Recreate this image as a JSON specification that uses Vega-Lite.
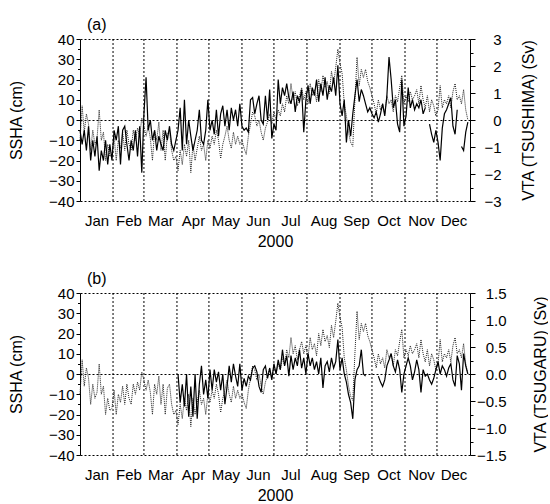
{
  "$schema": "https://vega.github.io/schema/vega-lite/v6.json",
  "padding": {"left": 8, "top": 17, "right": 0, "bottom": 0},
  "spacing": 22,
  "config": {
    "font": "Liberation Sans",
    "view": {"stroke": null},
    "axis": {
      "labelFont": "Liberation Sans",
      "titleFont": "Liberation Sans",
      "labelColor": "#000",
      "titleColor": "#000",
      "labelFontSize": 15,
      "titleFontSize": 16,
      "titleFontWeight": "normal",
      "domainColor": "#000",
      "tickColor": "#000"
    },
    "title": {"font": "Liberation Sans", "fontSize": 16, "fontWeight": "normal", "color": "#000"}
  },
  "datasets": {
    "months": [{"d": 31}, {"d": 60}, {"d": 91}, {"d": 121}, {"d": 152}, {"d": 182}, {"d": 213}, {"d": 244}, {"d": 274}, {"d": 305}, {"d": 335}],
    "ts": [
      {"d": 0, "s": -10, "a": -0.38, "b": null}, {"d": 2, "s": 7, "a": -0.9, "b": null}, {"d": 4, "s": -6, "a": -0.38, "b": null}, {"d": 6, "s": 3, "a": -1.13, "b": null}, {"d": 8, "s": -2, "a": -0.23, "b": null},
      {"d": 10, "s": -15, "a": -1.5, "b": null}, {"d": 12, "s": -5, "a": -0.75, "b": null}, {"d": 14, "s": -12, "a": -1.35, "b": null}, {"d": 16, "s": -9, "a": -0.6, "b": null}, {"d": 18, "s": 5, "a": -1.88, "b": null},
      {"d": 20, "s": -10, "a": -1.13, "b": null}, {"d": 22, "s": -6, "a": -1.5, "b": null}, {"d": 24, "s": -20, "a": -0.75, "b": null}, {"d": 26, "s": -12, "a": -1.65, "b": null}, {"d": 28, "s": -18, "a": -0.9, "b": null},
      {"d": 30, "s": -17, "a": -1.5, "b": null}, {"d": 32, "s": -8, "a": -0.38, "b": null}, {"d": 34, "s": -20, "a": -0.75, "b": null}, {"d": 36, "s": -10, "a": -0.23, "b": null}, {"d": 38, "s": -14, "a": -1.65, "b": null},
      {"d": 40, "s": -6, "a": -0.38, "b": null}, {"d": 42, "s": -15, "a": -0.23, "b": null}, {"d": 44, "s": -5, "a": -0.9, "b": null}, {"d": 46, "s": -12, "a": -1.5, "b": null}, {"d": 48, "s": -15, "a": -0.75, "b": null},
      {"d": 50, "s": -5, "a": -1.13, "b": null}, {"d": 52, "s": -10, "a": -0.38, "b": null}, {"d": 54, "s": -4, "a": -1.35, "b": null}, {"d": 56, "s": -8, "a": -0.23, "b": null}, {"d": 58, "s": 1, "a": -1.95, "b": null},
      {"d": 60, "s": -3, "a": 0.23, "b": null}, {"d": 62, "s": -8, "a": 1.58, "b": null}, {"d": 64, "s": -3, "a": -0.38, "b": null}, {"d": 66, "s": -9, "a": 0, "b": null}, {"d": 68, "s": -20, "a": -0.75, "b": null},
      {"d": 70, "s": -5, "a": -0.38, "b": null}, {"d": 72, "s": -10, "a": -1.13, "b": null}, {"d": 74, "s": -1, "a": -0.6, "b": null}, {"d": 76, "s": -15, "a": -0.9, "b": null}, {"d": 78, "s": -5, "a": -1.13, "b": null},
      {"d": 80, "s": -20, "a": -0.38, "b": null}, {"d": 82, "s": -7, "a": -0.75, "b": null}, {"d": 84, "s": -5, "a": -0.23, "b": null}, {"d": 86, "s": -15, "a": -0.9, "b": null}, {"d": 88, "s": -20, "a": -1.13, "b": null},
      {"d": 90, "s": -18, "a": -0.75, "b": null}, {"d": 92, "s": -25, "a": -0.38, "b": 0}, {"d": 94, "s": -15, "a": 0.45, "b": -0.53}, {"d": 96, "s": -22, "a": -1.13, "b": -0.19}, {"d": 98, "s": -12, "a": 0.75, "b": -0.6},
      {"d": 100, "s": -18, "a": -0.9, "b": 0}, {"d": 102, "s": -10, "a": 0, "b": -0.79}, {"d": 104, "s": -26, "a": -0.6, "b": -0.23}, {"d": 106, "s": -12, "a": -1.13, "b": -0.79}, {"d": 108, "s": -20, "a": -0.75, "b": 0},
      {"d": 110, "s": -14, "a": -0.38, "b": -0.83}, {"d": 112, "s": -8, "a": 0.38, "b": -0.19}, {"d": 114, "s": -15, "a": -0.75, "b": 0.15}, {"d": 116, "s": -12, "a": -0.9, "b": -0.38}, {"d": 118, "s": -20, "a": -0.38, "b": -0.11},
      {"d": 120, "s": -10, "a": 0.75, "b": -0.45}, {"d": 122, "s": -14, "a": -0.38, "b": 0.08}, {"d": 124, "s": -8, "a": 0, "b": -0.3}, {"d": 126, "s": -12, "a": -0.53, "b": 0.08}, {"d": 128, "s": -5, "a": 0.38, "b": -0.15},
      {"d": 130, "s": -10, "a": -0.6, "b": 0.04}, {"d": 132, "s": -19, "a": 0.23, "b": -0.3}, {"d": 134, "s": -12, "a": 0.53, "b": 0}, {"d": 136, "s": -8, "a": -0.23, "b": -0.56}, {"d": 138, "s": -3, "a": 0.38, "b": -0.23},
      {"d": 140, "s": -10, "a": -0.38, "b": 0.15}, {"d": 142, "s": -14, "a": 0.45, "b": -0.15}, {"d": 144, "s": -6, "a": 0, "b": 0.19}, {"d": 146, "s": -12, "a": 0.38, "b": -0.04}, {"d": 148, "s": -8, "a": -0.23, "b": -0.23},
      {"d": 150, "s": -12, "a": 0.6, "b": 0.19}, {"d": 152, "s": -10, "a": -0.23, "b": -0.3}, {"d": 154, "s": -14, "a": -0.38, "b": -0.08}, {"d": 156, "s": -17, "a": -0.3, "b": -0.23}, {"d": 158, "s": -8, "a": -0.45, "b": -0.04},
      {"d": 160, "s": -2, "a": 0.75, "b": -0.11}, {"d": 162, "s": 4, "a": 0.83, "b": 0.11}, {"d": 164, "s": 2, "a": 0.23, "b": 0.15}, {"d": 166, "s": -3, "a": 0.6, "b": 0.04}, {"d": 168, "s": 0, "a": 0.9, "b": -0.23},
      {"d": 170, "s": -6, "a": 0, "b": -0.34}, {"d": 172, "s": -10, "a": -0.15, "b": 0.08}, {"d": 174, "s": -4, "a": 0.9, "b": 0.15}, {"d": 176, "s": -1, "a": 0, "b": -0.08}, {"d": 178, "s": 3, "a": 1.13, "b": 0.11},
      {"d": 180, "s": -2, "a": -0.68, "b": -0.11}, {"d": 182, "s": 4, "a": -0.15, "b": 0.19}, {"d": 184, "s": 0, "a": -0.38, "b": 0}, {"d": 186, "s": 5, "a": 1.5, "b": 0.26}, {"d": 188, "s": 2, "a": 0.6, "b": 0.08},
      {"d": 190, "s": 8, "a": 1.2, "b": 0.45}, {"d": 192, "s": 4, "a": 0.9, "b": 0.15}, {"d": 194, "s": 12, "a": 1.35, "b": 0.34}, {"d": 196, "s": 8, "a": 0.83, "b": -0.04}, {"d": 198, "s": 18, "a": 0.6, "b": 0.34},
      {"d": 200, "s": 10, "a": 1.05, "b": 0.08}, {"d": 202, "s": 14, "a": 0.3, "b": 0.3}, {"d": 204, "s": 7, "a": 0.9, "b": 0.15}, {"d": 206, "s": 12, "a": 0.68, "b": 0.45}, {"d": 208, "s": 16, "a": 1.13, "b": 0.11},
      {"d": 210, "s": 10, "a": -0.45, "b": 0.3}, {"d": 212, "s": 14, "a": 0.75, "b": 0}, {"d": 214, "s": 8, "a": 1.28, "b": 0.38}, {"d": 216, "s": 18, "a": 0.6, "b": 0.15}, {"d": 218, "s": 12, "a": 1.2, "b": 0.3},
      {"d": 220, "s": 15, "a": 0.9, "b": 0.08}, {"d": 222, "s": 9, "a": 1.5, "b": 0.23}, {"d": 224, "s": 20, "a": 0.68, "b": 0}, {"d": 226, "s": 14, "a": 1.35, "b": 0.3}, {"d": 228, "s": 22, "a": 0.9, "b": -0.26},
      {"d": 230, "s": 16, "a": 1.58, "b": 0.15}, {"d": 232, "s": 19, "a": 0.75, "b": 0.23}, {"d": 234, "s": 13, "a": 1.28, "b": 0.04}, {"d": 236, "s": 24, "a": 1.05, "b": 0.3}, {"d": 238, "s": 18, "a": 1.58, "b": 0.11},
      {"d": 240, "s": 26, "a": 0.9, "b": 0.23}, {"d": 242, "s": 35, "a": 2.03, "b": 0.64}, {"d": 244, "s": 28, "a": 0.6, "b": 0.08}, {"d": 246, "s": 23, "a": 0.15, "b": 0.3}, {"d": 248, "s": 8, "a": 0.75, "b": 0},
      {"d": 250, "s": 2, "a": -0.83, "b": -0.15}, {"d": 252, "s": -6, "a": 0, "b": -0.38}, {"d": 254, "s": -11, "a": -0.6, "b": -0.53}, {"d": 256, "s": -13, "a": 0.23, "b": -0.83}, {"d": 258, "s": 10, "a": 0.9, "b": -0.11},
      {"d": 260, "s": 31, "a": 1.5, "b": 0.08}, {"d": 262, "s": 17, "a": 0.68, "b": 0.15}, {"d": 264, "s": 25, "a": 1.13, "b": 0.45}, {"d": 266, "s": 21, "a": 0.9, "b": 0}, {"d": 268, "s": 25, "a": 0.6, "b": -0.04},
      {"d": 270, "s": 19, "a": 0.3, "b": null}, {"d": 272, "s": 16, "a": 0.45, "b": null}, {"d": 274, "s": 12, "a": 0.23, "b": null}, {"d": 276, "s": 8, "a": 0.08, "b": null}, {"d": 278, "s": 3, "a": 0.3, "b": null},
      {"d": 280, "s": 10, "a": -0.08, "b": -0.04}, {"d": 282, "s": 5, "a": 0.23, "b": -0.15}, {"d": 284, "s": 8, "a": 0.6, "b": -0.23}, {"d": 286, "s": 3, "a": 0.15, "b": -0.11}, {"d": 288, "s": 12, "a": 0.9, "b": 0.15},
      {"d": 290, "s": 8, "a": 2.33, "b": 0.26}, {"d": 292, "s": 10, "a": 1.5, "b": 0.38}, {"d": 294, "s": 4, "a": 0.45, "b": 0.15}, {"d": 296, "s": 12, "a": 0.75, "b": 0.04}, {"d": 298, "s": 9, "a": -0.15, "b": 0.26},
      {"d": 300, "s": 16, "a": -0.45, "b": 0.08}, {"d": 302, "s": 22, "a": 1.5, "b": -0.34}, {"d": 304, "s": 8, "a": -0.23, "b": 0}, {"d": 306, "s": 12, "a": 0.15, "b": 0.15}, {"d": 308, "s": 9, "a": 1.2, "b": 0.3},
      {"d": 310, "s": 14, "a": 0.45, "b": 0.15}, {"d": 312, "s": 10, "a": 0.75, "b": -0.11}, {"d": 314, "s": 12, "a": 0.38, "b": 0.04}, {"d": 316, "s": 15, "a": 0.6, "b": 0.26}, {"d": 318, "s": 8, "a": 0.45, "b": 0.08},
      {"d": 320, "s": 17, "a": 0.75, "b": -0.34}, {"d": 322, "s": 10, "a": 0.23, "b": 0.08}, {"d": 324, "s": 6, "a": 0.45, "b": -0.04}, {"d": 326, "s": 12, "a": null, "b": 0}, {"d": 328, "s": 4, "a": -0.15, "b": -0.11},
      {"d": 330, "s": 10, "a": -0.53, "b": -0.19}, {"d": 332, "s": 7, "a": -0.83, "b": -0.08}, {"d": 334, "s": 2, "a": -0.38, "b": 0.08}, {"d": 336, "s": 5, "a": -0.83, "b": 0.23}, {"d": 338, "s": 17, "a": -1.5, "b": 0},
      {"d": 340, "s": 6, "a": -0.3, "b": 0.15}, {"d": 342, "s": 10, "a": 0.23, "b": 0.08}, {"d": 344, "s": 8, "a": 0.38, "b": -0.04}, {"d": 346, "s": 12, "a": 0.6, "b": 0.11}, {"d": 348, "s": 6, "a": 0.83, "b": 0.19},
      {"d": 350, "s": 14, "a": -0.23, "b": -0.11}, {"d": 352, "s": 18, "a": -0.53, "b": -0.23}, {"d": 354, "s": 10, "a": 0.38, "b": 0.34}, {"d": 356, "s": 12, "a": null, "b": 0.19}, {"d": 358, "s": 8, "a": -0.98, "b": -0.3},
      {"d": 360, "s": 15, "a": -1.13, "b": 0.38}, {"d": 362, "s": 5, "a": -0.45, "b": 0.15}, {"d": 364, "s": 0, "a": -0.08, "b": 0}
    ]
  },
  "vconcat": [
    {
      "width": 390,
      "height": 162,
      "title": {"text": "(a)", "anchor": "start", "frame": "group", "baseline": "alphabetic", "offset": -14, "dx": 7},
      "encoding": {
        "x": {
          "field": "d", "type": "quantitative",
          "scale": {"domain": [0, 366], "nice": false, "zero": false},
          "axis": {
            "title": "2000", "titlePadding": 5,
            "values": [15.5, 45.5, 75.5, 106, 136.5, 167, 197.5, 228.5, 259, 289.5, 320, 350.5],
            "labelExpr": "['Jan','Feb','Mar','Apr','May','Jun','Jul','Aug','Sep','Oct','Nov','Dec'][floor(datum.value / 30.5)]",
            "ticks": false, "domain": false, "grid": false,
            "labelPadding": 12, "labelOverlap": false, "labelFlush": false, "labelBound": false
          }
        }
      },
      "layer": [
        {
          "data": {"name": "months"},
          "mark": {"type": "rule", "strokeDash": [2, 2], "color": "#000", "strokeWidth": 1},
          "encoding": {}
        },
        {
          "data": {"name": "ts"},
          "mark": {"type": "line", "strokeDash": [1, 1], "color": "#222", "strokeWidth": 1},
          "encoding": {
            "y": {
              "field": "s", "type": "quantitative",
              "scale": {"domain": [-40, 40], "nice": false},
              "axis": {
                "orient": "left", "title": "SSHA (cm)", "titlePadding": 24,
                "values": [-40, -35, -30, -25, -20, -15, -10, -5, 0, 5, 10, 15, 20, 25, 30, 35, 40],
                "labelExpr": "datum.value % 10 === 0 ? datum.label : ''",
                "tickSize": {"condition": {"test": "datum.value % 10 === 0", "value": 4}, "value": 2.5},
                "labelPadding": 2, "labelOverlap": false, "labelFlush": false,
                "grid": true, "gridDash": [2, 2], "gridColor": "#000",
                "gridOpacity": {"condition": {"test": "datum.value % 40 === 0", "value": 1}, "value": 0}
              }
            }
          }
        },
        {
          "data": {"name": "ts"},
          "mark": {"type": "line", "color": "#000", "strokeWidth": 1.2, "invalid": "break-paths-filter-domains"},
          "encoding": {
            "y": {
              "field": "a", "type": "quantitative",
              "scale": {"domain": [-3, 3], "nice": false},
              "axis": {
                "orient": "right", "title": "VTA (TSUSHIMA) (Sv)", "titleAngle": 270, "titleBaseline": "top", "titlePadding": 19,
                "values": [-3, -2.5, -2, -1.5, -1, -0.5, 0, 0.5, 1, 1.5, 2, 2.5, 3],
                "format": ".0f",
                "labelExpr": "datum.value % 1 === 0 ? datum.label : ''",
                "tickSize": {"condition": {"test": "datum.value % 1 === 0", "value": 5}, "value": 3},
                "labelAlign": "right", "labelPadding": 26, "labelOverlap": false, "labelFlush": false,
                "grid": false
              }
            }
          }
        }
      ],
      "resolve": {"scale": {"y": "independent"}}
    },
    {
      "width": 390,
      "height": 162,
      "title": {"text": "(b)", "anchor": "start", "frame": "group", "baseline": "alphabetic", "offset": -14, "dx": 7},
      "encoding": {
        "x": {
          "field": "d", "type": "quantitative",
          "scale": {"domain": [0, 366], "nice": false, "zero": false},
          "axis": {
            "title": "2000", "titlePadding": 5,
            "values": [15.5, 45.5, 75.5, 106, 136.5, 167, 197.5, 228.5, 259, 289.5, 320, 350.5],
            "labelExpr": "['Jan','Feb','Mar','Apr','May','Jun','Jul','Aug','Sep','Oct','Nov','Dec'][floor(datum.value / 30.5)]",
            "ticks": false, "domain": false, "grid": false,
            "labelPadding": 12, "labelOverlap": false, "labelFlush": false, "labelBound": false
          }
        }
      },
      "layer": [
        {
          "data": {"name": "months"},
          "mark": {"type": "rule", "strokeDash": [2, 2], "color": "#000", "strokeWidth": 1},
          "encoding": {}
        },
        {
          "data": {"name": "ts"},
          "mark": {"type": "line", "strokeDash": [1, 1], "color": "#222", "strokeWidth": 1},
          "encoding": {
            "y": {
              "field": "s", "type": "quantitative",
              "scale": {"domain": [-40, 40], "nice": false},
              "axis": {
                "orient": "left", "title": "SSHA (cm)", "titlePadding": 24,
                "values": [-40, -35, -30, -25, -20, -15, -10, -5, 0, 5, 10, 15, 20, 25, 30, 35, 40],
                "labelExpr": "datum.value % 10 === 0 ? datum.label : ''",
                "tickSize": {"condition": {"test": "datum.value % 10 === 0", "value": 4}, "value": 2.5},
                "labelPadding": 2, "labelOverlap": false, "labelFlush": false,
                "grid": true, "gridDash": [2, 2], "gridColor": "#000",
                "gridOpacity": {"condition": {"test": "datum.value % 40 === 0", "value": 1}, "value": 0}
              }
            }
          }
        },
        {
          "data": {"name": "ts"},
          "mark": {"type": "line", "color": "#000", "strokeWidth": 1.2, "invalid": "break-paths-filter-domains"},
          "encoding": {
            "y": {
              "field": "b", "type": "quantitative",
              "scale": {"domain": [-1.5, 1.5], "nice": false},
              "axis": {
                "orient": "right", "title": "VTA (TSUGARU) (Sv)", "titleAngle": 270, "titleBaseline": "top", "titlePadding": 26,
                "values": [-1.5, -1.25, -1, -0.75, -0.5, -0.25, 0, 0.25, 0.5, 0.75, 1, 1.25, 1.5],
                "format": ".1f",
                "labelExpr": "abs(datum.value * 2 - round(datum.value * 2)) < 1e-9 ? datum.label : ''",
                "tickSize": {"condition": {"test": "abs(datum.value * 2 - round(datum.value * 2)) < 1e-9", "value": 5}, "value": 3},
                "labelAlign": "right", "labelPadding": 31, "labelOverlap": false, "labelFlush": false,
                "grid": false
              }
            }
          }
        }
      ],
      "resolve": {"scale": {"y": "independent"}}
    }
  ]
}
